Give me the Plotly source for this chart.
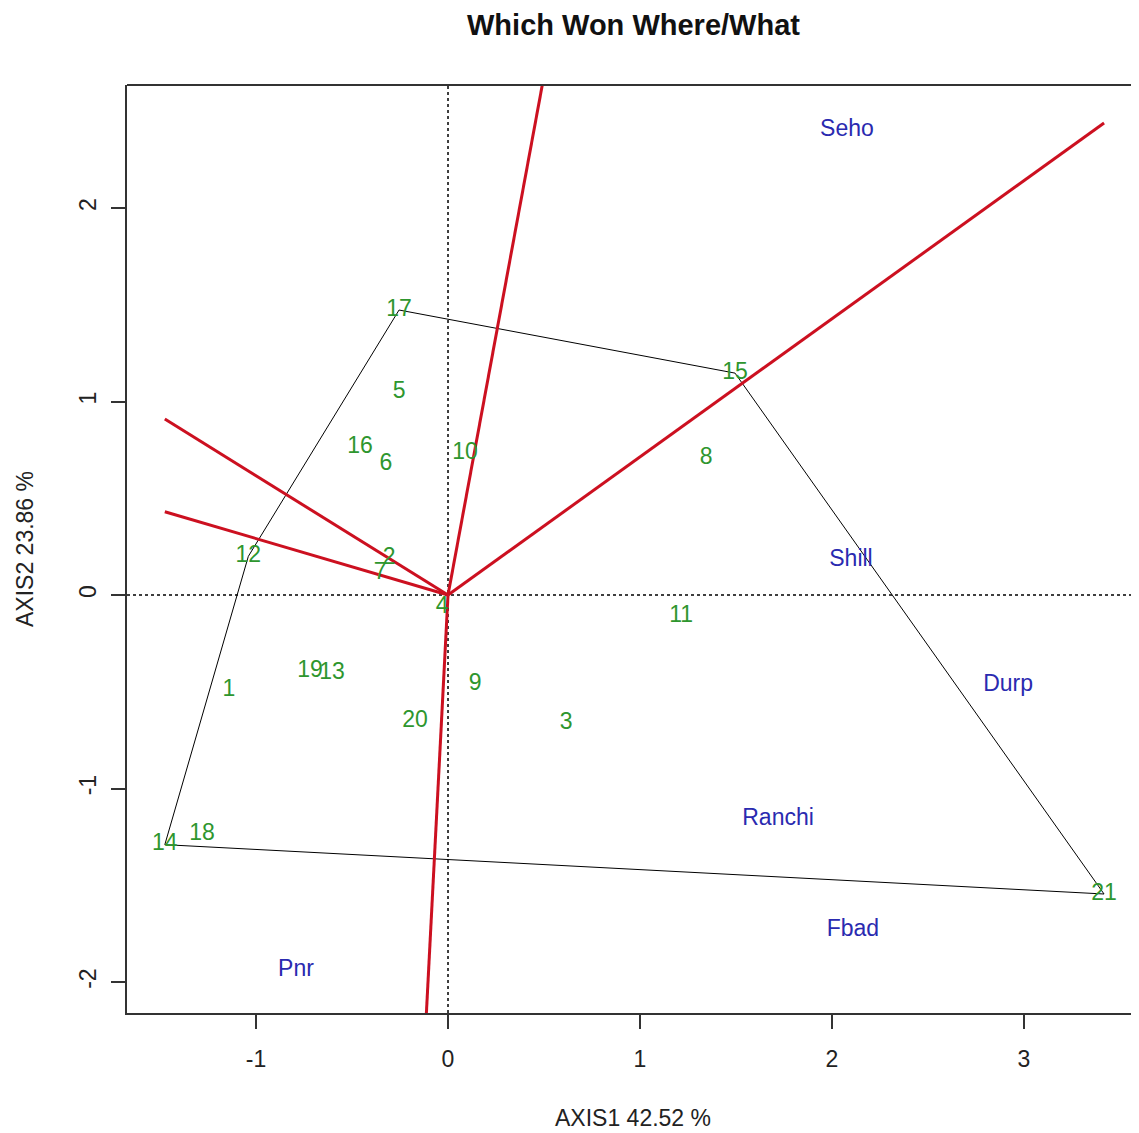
import plotly.graph_objects as go

# ---------------- data ----------------
genotypes = [str(i) for i in range(1, 22)]
gen_x = [-1.141, -0.307, 0.615, -0.031, -0.255, -0.323, -0.354, 1.344, 0.141, 0.089,
         1.214, -1.040, -0.604, -1.475, 1.495, -0.458, -0.255, -1.281, -0.719, -0.172, 3.417]
gen_y = [-0.491, 0.191, -0.661, -0.062, 1.049, 0.677, 0.114, 0.708, -0.460, 0.734,
         -0.109, 0.200, -0.403, -1.290, 1.147, 0.765, 1.473, -1.235, -0.393, -0.651, -1.545]

environments = ["Seho", "Shill", "Durp", "Ranchi", "Fbad", "Pnr"]
env_x = [2.078, 2.099, 2.917, 1.719, 2.109, -0.792]
env_y = [2.403, 0.181, -0.465, -1.158, -1.731, -1.938]

x_ticks = [-1, 0, 1, 2, 3]
y_ticks = [-2, -1, 0, 1, 2]
x_range = [-1.672, 3.599]
y_range = [-2.160, 2.636]

title_text = "Which Won Where/What"
x_title = "AXIS1 42.52 %"
y_title = "AXIS2 23.86 %"

# ---------------- convex hull (monotone chain) ----------------
pts = sorted(zip(gen_x, gen_y))


def cross(o, a, b):
    return (a[0] - o[0]) * (b[1] - o[1]) - (a[1] - o[1]) * (b[0] - o[0])


lower = []
for p in pts:
    while len(lower) >= 2 and cross(lower[-2], lower[-1], p) <= 0:
        lower.pop()
    lower.append(p)
upper = []
for p in reversed(pts):
    while len(upper) >= 2 and cross(upper[-2], upper[-1], p) <= 0:
        upper.pop()
    upper.append(p)
hull = lower[:-1] + upper[:-1]
hull_closed = hull + [hull[0]]

# ---------------- perpendicular rays from origin ----------------
xmin, xmax = min(gen_x), max(gen_x)
rays = []
for i in range(len(hull)):
    a = hull[i]
    b = hull[(i + 1) % len(hull)]
    ex, ey = b[0] - a[0], b[1] - a[1]
    t = -(a[0] * ex + a[1] * ey) / (ex * ex + ey * ey)
    fx, fy = a[0] + t * ex, a[1] + t * ey
    target = xmin if fx < 0 else xmax
    s = target / fx
    rays.append((fx * s, fy * s))

# ---------------- figure ----------------
FONT = "Liberation Sans, Arial, sans-serif"
FRAME = "#333333"
fig = go.Figure()

# dotted reference lines
fig.add_shape(type="line", xref="x", yref="paper", x0=0, x1=0, y0=0, y1=1,
              line=dict(color="black", width=1.5, dash="dot"), layer="below")
fig.add_shape(type="line", xref="paper", yref="y", x0=0, x1=1, y0=0, y1=0,
              line=dict(color="black", width=1.5, dash="dot"), layer="below")

# polygon
fig.add_trace(go.Scatter(x=[p[0] for p in hull_closed], y=[p[1] for p in hull_closed],
                         mode="lines", line=dict(color="black", width=1),
                         hoverinfo="skip", showlegend=False))

# rays
for rx, ry in rays:
    fig.add_trace(go.Scatter(x=[0, rx], y=[0, ry], mode="lines",
                             line=dict(color="#CC1020", width=3),
                             hoverinfo="skip", showlegend=False))

# genotype labels
fig.add_trace(go.Scatter(x=gen_x, y=gen_y, mode="text", text=genotypes,
                         textposition="middle center",
                         textfont=dict(family=FONT, size=23, color="#2E962E"),
                         showlegend=False, cliponaxis=False))

# environment labels
fig.add_trace(go.Scatter(x=env_x, y=env_y, mode="text", text=environments,
                         textposition="middle center",
                         textfont=dict(family=FONT, size=23, color="#2A2AB0"),
                         showlegend=False, cliponaxis=False))

# top frame line (right edge is cut off in reference)
fig.add_shape(type="line", xref="paper", yref="paper", x0=0, x1=1, y0=1, y1=1,
              line=dict(color=FRAME, width=2))

# page body has an 8px offset, so the figure is sized to compensate
OFF = 8
plot_w = 1012
plot_h = 928
left, top = 127 - OFF, 85 - OFF

fig.update_layout(
    width=1139 - OFF, height=1133 - OFF,
    margin=dict(l=left, r=0, t=top, b=(1133 - OFF) - top - plot_h),
    paper_bgcolor="white", plot_bgcolor="white",
    font=dict(family=FONT, size=23, color="#222222"),
    xaxis=dict(range=x_range, tickvals=x_ticks, ticktext=[str(v) for v in x_ticks],
               showgrid=False, zeroline=False, showline=True, linecolor=FRAME,
               linewidth=2, ticks="outside", ticklen=14, tickwidth=2, tickcolor=FRAME,
               tickfont=dict(size=23, color="#222222"), ticklabelstandoff=10),
    yaxis=dict(range=y_range, tickvals=y_ticks, ticktext=[str(v) for v in y_ticks],
               showgrid=False, zeroline=False, showline=True, linecolor=FRAME,
               linewidth=2, ticks="outside", ticklen=14, tickwidth=2, tickcolor=FRAME,
               tickangle=-90, tickfont=dict(size=23, color="#222222"), ticklabelstandoff=6),
    annotations=[
        dict(text="<b>" + title_text + "</b>", xref="paper", yref="paper",
             x=0.5, y=1 + (85 - 25) / plot_h, xanchor="center", yanchor="middle",
             showarrow=False, font=dict(size=29, color="#111111")),
        dict(text=x_title, xref="paper", yref="paper", x=0.5,
             y=-(1118 - 1013) / plot_h, xanchor="center", yanchor="middle",
             showarrow=False, font=dict(size=23, color="#222222")),
        dict(text=y_title, xref="paper", yref="paper", x=-(127 - 25) / plot_w,
             y=0.5, xanchor="center", yanchor="middle", textangle=-90,
             showarrow=False, font=dict(size=23, color="#222222")),
    ],
)

fig.write_html("out.html")
